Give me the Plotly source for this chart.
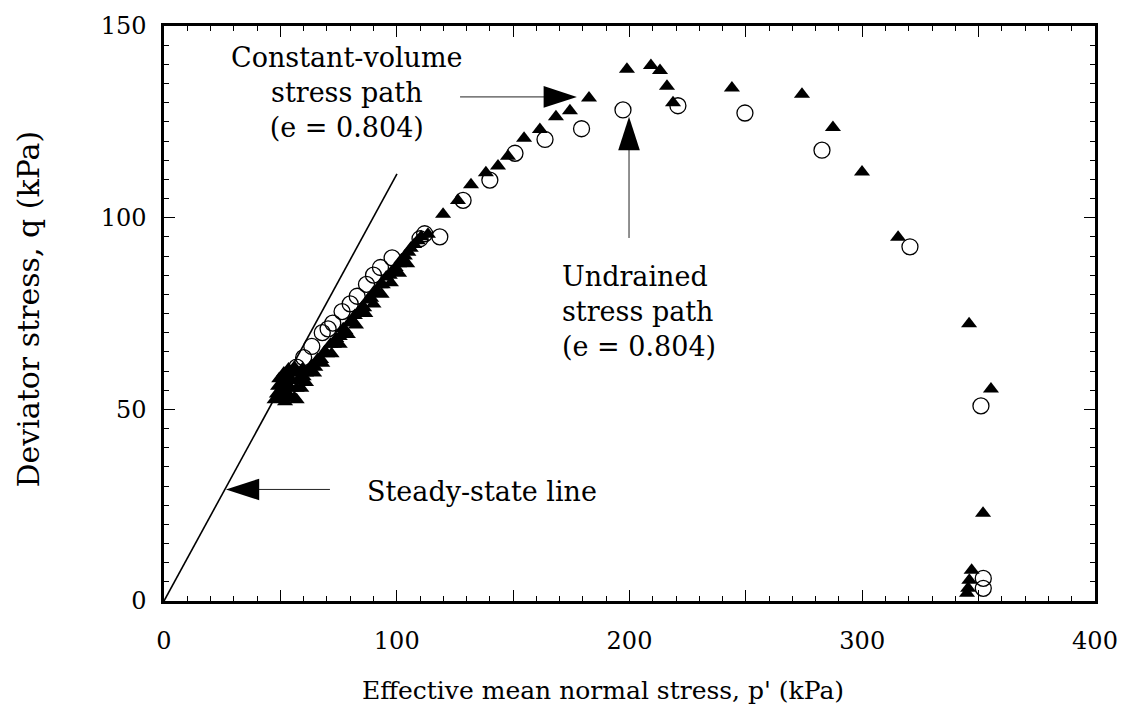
import plotly.graph_objects as go

# ---------------- data ----------------
# Undrained stress path, filled triangles: p' (kPa), q (kPa)
tri_p = [47.5, 48.5, 49, 49.5, 50, 50.5, 51, 51.5, 52, 52.5, 53, 53.5, 54, 54.5,
         55, 55.5, 56, 57, 57.5, 58, 59, 59.5, 60, 61, 52, 56, 57, 59, 61,
         62, 63.5, 65, 66, 67.5, 69, 70, 71.5, 73, 74, 75.5, 77, 78, 79.5, 81,
         82, 83.5, 85, 86, 87.5, 89, 90, 91.5, 93, 94, 95.5, 97, 98, 99.5, 101,
         102, 103.5, 105, 106, 107.5, 109, 110.5,
         64.5, 68, 72, 75.5, 79, 82.5, 86.5, 90, 93.5, 97.5, 101, 104.5,
         113.4, 119.9, 126.3, 131.9, 138.3, 143.5, 147.8, 154.7, 161.5, 168.4,
         174.4, 182.6, 198.9, 209.2, 213.1, 216.1, 218.7, 244.0, 274.1, 287.4,
         299.9, 315.4, 345.9, 355.3, 351.9, 347.0, 346.0, 345.5, 345.0]
tri_q = [52.5, 54, 56, 58, 55, 53, 57, 59.5, 54.5, 56.5, 58.5, 60.5, 53.5, 55.5,
         57.5, 59.5, 61, 55.5, 57.5, 59.5, 58, 60.5, 58.5, 59.5, 52, 53, 52.5, 55.5, 57,
         60, 61.5, 61, 63, 63, 65, 64.5, 67, 67, 68.5, 69, 71, 70.5, 72.5, 73,
         74.5, 75, 76.5, 76.5, 78.5, 79, 80.5, 81, 82.5, 82.5, 84.5, 85, 86, 87, 88,
         89, 90, 91, 92, 93, 94, 95,
         59.5, 62, 64.5, 67, 69.5, 72, 75, 77.5, 80, 83, 85.5, 88,
         95.7, 100.9, 104.5, 108.6, 111.7, 113.5, 116.0, 120.7, 123.0, 126.3,
         127.9, 131.2, 138.7, 139.7, 138.4, 134.3, 130.0, 133.8, 132.2, 123.5,
         111.9, 94.9, 72.3, 55.3, 22.9, 8.0, 5.4, 3.3, 2.0]

# Constant-volume stress path, open circles: p' (kPa), q (kPa)
circ_p = [57, 60, 63.5, 68, 70.5, 72.5, 76.5, 80, 83, 87, 90, 93, 98, 110,
          112, 118.5, 128.5, 140, 150.8, 163.7, 179.4, 197.2, 220.8, 249.6,
          282.7, 320.5, 351.0, 352.0, 352.0]
circ_q = [61, 63.5, 66.4, 70, 71, 72.5, 75.5, 77.5, 79.5, 82.6, 85, 87, 89.5, 94.5,
          95.8, 95.0, 104.5, 109.8, 116.8, 120.4, 123.2, 128.1, 129.2, 127.3,
          117.6, 92.4, 50.9, 5.9, 3.3]

# Steady-state line
ssl_p = [0, 100.1]
ssl_q = [0, 111.4]

# Annotation texts and positions (data units)
note_text = ["Constant-volume<br>stress path<br>(e = 0.804)",
             "Undrained<br>stress path<br>(e = 0.804)",
             "Steady-state line"]
note_p = [78.5, 170.0, 136.6]
note_q = [132.6, 75.6, 28.6]
note_anchor = ["center", "left", "center"]
note_align = ["center", "left", "center"]

# Arrows: tail -> head (data units)
arrow_tail_p = [127.2, 199.8, 71.3]
arrow_tail_q = [131.5, 94.7, 29.1]
arrow_head_p = [177.4, 199.8, 26.6]
arrow_head_q = [131.5, 126.3, 29.1]

# Axes
x_tickvals = [0, 50, 100, 150, 200, 250, 300, 350, 400]
x_ticktext = ["0", "", "100", "", "200", "", "300", "", "400"]
y_tickvals = [0, 50, 100, 150]
y_ticktext = ["0", "50", "100", "150"]
x_title = "Effective mean normal stress, p' (kPa)"
y_title = "Deviator stress, q (kPa)"

FONT = "DejaVu Serif"

fig = go.Figure()

fig.add_trace(go.Scatter(x=ssl_p, y=ssl_q, mode="lines",
                         line=dict(color="black", width=1.6),
                         showlegend=False, hoverinfo="skip"))

fig.add_trace(go.Scatter(x=tri_p, y=tri_q, mode="markers",
                         marker=dict(symbol="triangle-up", size=14, color="black",
                                     line=dict(width=0)),
                         showlegend=False))

fig.add_trace(go.Scatter(x=circ_p, y=circ_q, mode="markers",
                         marker=dict(symbol="circle-open", size=16, color="black",
                                     line=dict(width=1.3, color="black")),
                         showlegend=False))

# Arrows drawn as two-point lines with an arrow marker at the head
for tp, tq, hp, hq in zip(arrow_tail_p, arrow_tail_q, arrow_head_p, arrow_head_q):
    fig.add_trace(go.Scatter(x=[tp, hp], y=[tq, hq], mode="lines+markers",
                             line=dict(color="#222222", width=1),
                             marker=dict(symbol=["circle", "arrow"], size=[0, 35],
                                         color="black", opacity=1,
                                         angleref="previous",
                                         line=dict(width=0, color="black")),
                             showlegend=False, hoverinfo="skip"))

for t, p, q, a, al in zip(note_text, note_p, note_q, note_anchor, note_align):
    fig.add_annotation(x=p, y=q, xref="x", yref="y", text=t, showarrow=False,
                       xanchor=a, yanchor="middle", align=al,
                       font=dict(family=FONT, size=27, color="black"))

fig.add_annotation(x=0.4715, y=-0.156, xref="paper", yref="paper", text=x_title,
                   showarrow=False, xanchor="center", yanchor="middle",
                   font=dict(family=FONT, size=25, color="black"))
fig.add_annotation(x=-0.146, y=0.507, xref="paper", yref="paper", text=y_title,
                   showarrow=False, xanchor="center", yanchor="middle", textangle=-90,
                   font=dict(family=FONT, size=30, color="black"))

axis_common = dict(showgrid=False, zeroline=False, showline=True, linecolor="black",
                   linewidth=2.5, mirror="allticks", ticks="inside",
                   tickcolor="black", tickwidth=1.2, ticklen=11,
                   tickfont=dict(family=FONT, size=24, color="black"))

fig.update_xaxes(range=[0, 400], tickvals=x_tickvals, ticktext=x_ticktext,
                 minor=dict(dtick=10, ticklen=5, ticks="inside", tickcolor="black",
                            tickwidth=1),
                 ticklabelstandoff=16, **axis_common)
fig.update_yaxes(range=[0, 150], tickvals=y_tickvals, ticktext=y_ticktext,
                 minor=dict(dtick=5, ticklen=5, ticks="inside", tickcolor="black",
                            tickwidth=1),
                 ticklabelstandoff=10, **axis_common)

fig.update_layout(width=1134, height=715, autosize=False,
                  margin=dict(l=164, r=39, t=18, b=114),
                  paper_bgcolor="white", plot_bgcolor="white",
                  font=dict(family=FONT, color="black"))

fig.write_html("out.html")
